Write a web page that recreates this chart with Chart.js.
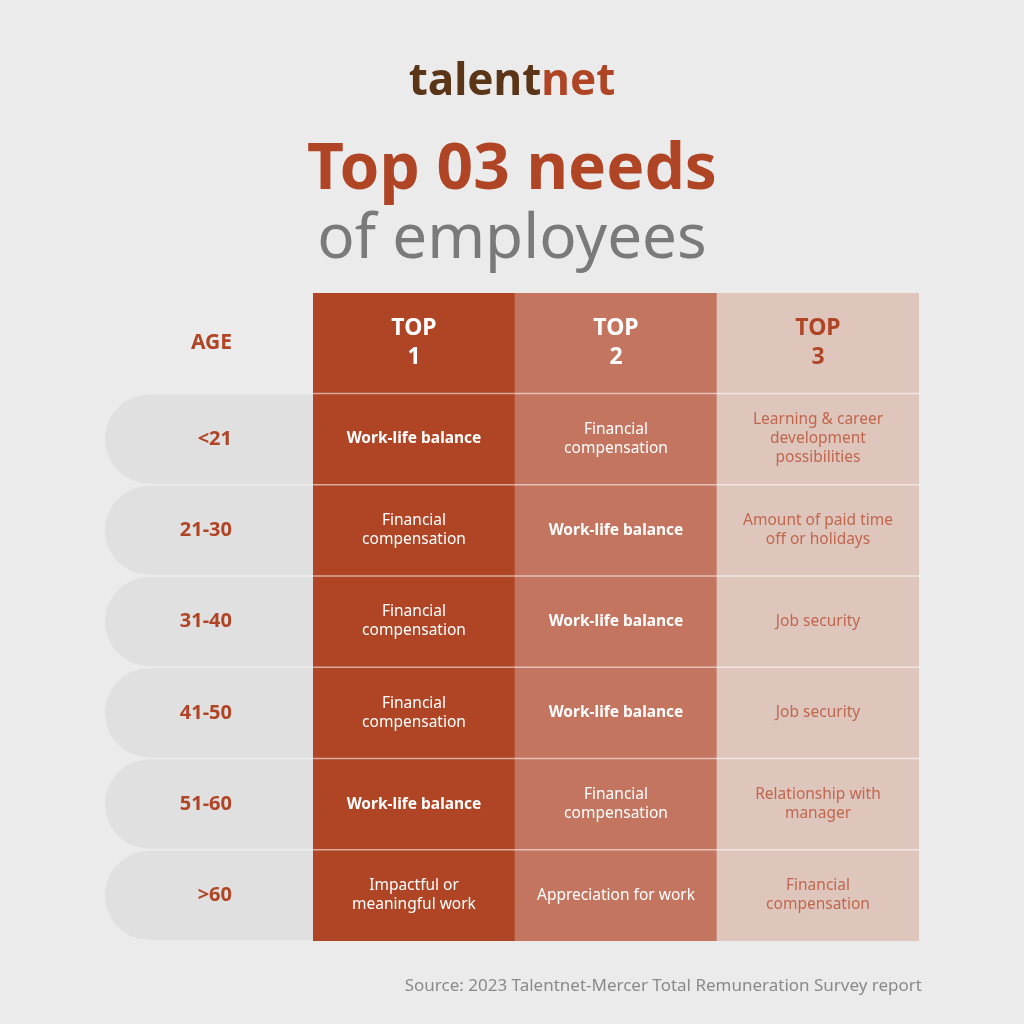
<!DOCTYPE html>
<html><head><meta charset="utf-8">
<script src="https://cdn.jsdelivr.net/npm/chart.js@4/dist/chart.umd.min.js"></script>
<style>html,body{margin:0;padding:0;background:#ebebeb}#w{width:1024px;height:1024px}</style>
</head><body><div id="w"><canvas id="c" width="1024" height="1024"></canvas></div>
<script>
const columns = ["TOP\n1", "TOP\n2", "TOP\n3"];
const ages = ["<21", "21-30", "31-40", "41-50", "51-60", ">60"];
const top1 = ["Work-life balance", "Financial\ncompensation", "Financial\ncompensation", "Financial\ncompensation", "Work-life balance", "Impactful or\nmeaningful work"];
const top2 = ["Financial\ncompensation", "Work-life balance", "Work-life balance", "Work-life balance", "Financial\ncompensation", "Appreciation for work"];
const top3 = ["Learning & career\ndevelopment\npossibilities", "Amount of paid time\noff or holidays", "Job security", "Job security", "Relationship with\nmanager", "Financial\ncompensation"];
const colFill = ["#b04526", "#c47560", "#dfc6bd"];
const F = "'Noto Sans', 'Open Sans', sans-serif";

const datasets = [{data: columns.map(() => [-1.1, 0])}];
ages.forEach((a, i) => datasets.push({data: columns.map(() => [i, i + 1])}));
datasets.forEach(d => { d.backgroundColor = colFill; d.borderWidth = 0; d.barPercentage = 1; d.categoryPercentage = 1; d.grouped = false; });

const deco = {
  id: 'deco',
  beforeDatasetsDraw(ch) {
    const c = ch.ctx, y = ch.scales.y, x0 = ch.chartArea.left;
    c.save();
    ages.forEach((a, i) => {
      const t = y.getPixelForValue(i) + 1, b = y.getPixelForValue(i + 1) - 1, r = (b - t) / 2;
      c.fillStyle = '#e0e0e0';
      c.beginPath();
      c.moveTo(x0, t); c.lineTo(105 + r, t); c.arc(105 + r, t + r, r, -Math.PI / 2, Math.PI / 2, true); c.lineTo(x0, b); c.closePath(); c.fill();
    });
    c.restore();
  },
  afterDatasetsDraw(ch) {
    const c = ch.ctx, x = ch.scales.x, y = ch.scales.y, ca = ch.chartArea;
    c.save();
    c.strokeStyle = 'rgba(255,255,255,0.55)'; c.lineWidth = 1.5;
    for (let i = 0; i < ages.length; i++) { const p = y.getPixelForValue(i); c.beginPath(); c.moveTo(ca.left, p); c.lineTo(ca.right, p); c.stroke(); }
    c.textAlign = 'center'; c.textBaseline = 'middle';
    columns.forEach((h, j) => {
      const lines = h.split('\n'), cx = x.getPixelForValue(j), cy = y.getPixelForValue(-0.55);
      c.fillStyle = j === 2 ? '#b04526' : '#ffffff'; c.font = 'bold 23px ' + F;
      lines.forEach((l, k) => c.fillText(l, cx, cy + (k - 0.5) * 29));
    });
    c.fillStyle = '#b04526'; c.font = 'bold 21px ' + F; c.textAlign = 'right';
    c.fillText('AGE', 232, y.getPixelForValue(-0.55));
    c.font = 'bold 20px ' + F;
    ages.forEach((a, i) => c.fillText(a, 232, y.getPixelForValue(i + 0.5)));
    c.textAlign = 'center';
    [top1, top2, top3].forEach((col, j) => {
      col.forEach((txt, i) => {
        const lines = txt.split('\n'), cx = x.getPixelForValue(j), cy = y.getPixelForValue(i + 0.5);
        const bold = txt === 'Work-life balance';
        c.fillStyle = j === 2 ? '#c0674e' : '#ffffff';
        c.font = (bold ? 'bold ' : '') + '15.5px ' + F;
        lines.forEach((l, k) => c.fillText(l, cx, cy + (k - (lines.length - 1) / 2) * 19));
      });
    });
    // titles
    c.textBaseline = 'alphabetic';
    c.font = 'bold 44px ' + F;
    const w1 = c.measureText('talent').width, w2 = c.measureText('net').width, sx = 512 - (w1 + w2) / 2;
    c.textAlign = 'left'; c.fillStyle = '#5b3518'; c.fillText('talent', sx, 95);
    c.fillStyle = '#b04526'; c.fillText('net', sx + w1, 95);
    c.textAlign = 'center';
    c.fillStyle = '#b04526'; c.font = 'bold 64px ' + F; c.fillText('Top 03 needs', 512, 189);
    c.fillStyle = '#7a7a7a'; c.font = '62px ' + F; c.fillText('of employees', 512, 258);
    c.textAlign = 'right'; c.fillStyle = '#8a8a8a'; c.font = '17px ' + F;
    c.fillText('Source: 2023 Talentnet-Mercer Total Remuneration Survey report', 922, 991);
    c.restore();
  }
};

new Chart(document.getElementById('c'), {
  type: 'bar',
  data: {labels: columns, datasets},
  options: {
    responsive: false, animation: false,
    layout: {padding: {left: 313, right: 105, top: 293, bottom: 83}},
    plugins: {legend: {display: false}, tooltip: {enabled: false}},
    scales: {
      x: {display: false, offset: true},
      y: {display: false, reverse: true, min: -1.1, max: 6}
    }
  },
  plugins: [deco]
});
</script></body></html>
